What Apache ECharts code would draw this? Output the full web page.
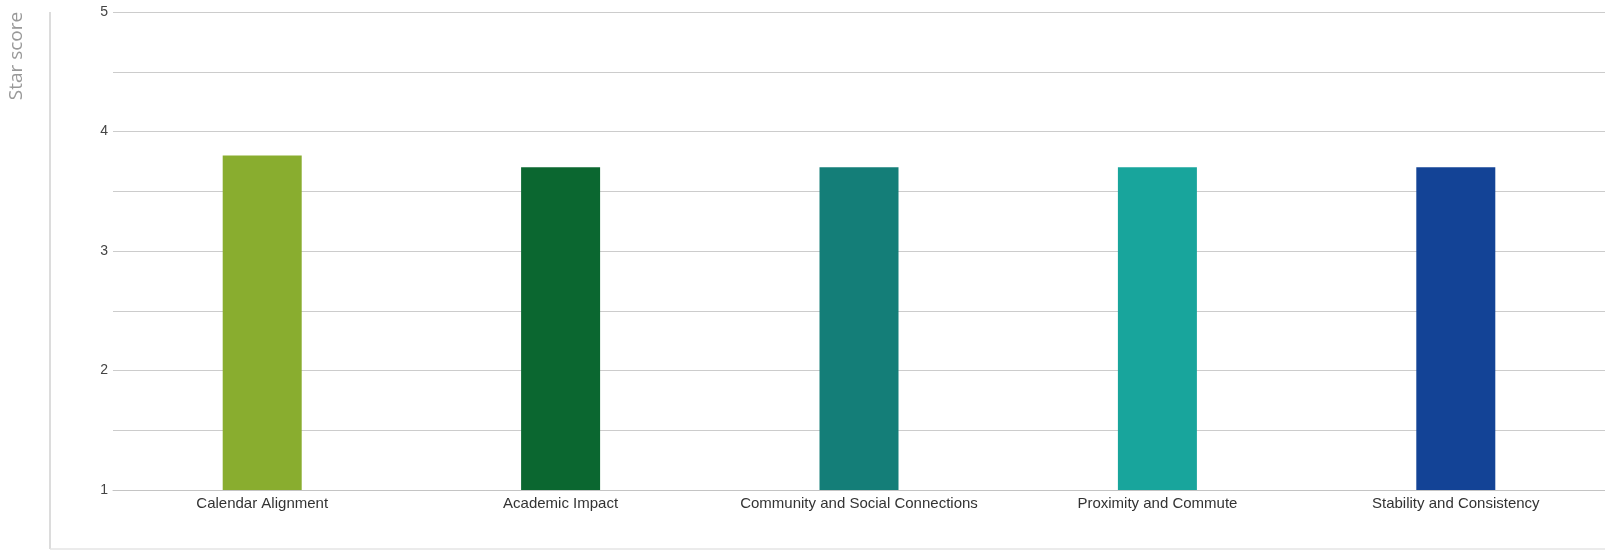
<!DOCTYPE html>
<html>
<head>
<meta charset="utf-8">
<script src="https://cdn.jsdelivr.net/npm/echarts@6/dist/echarts.min.js"></script>
<style>
html,body{margin:0;padding:0;background:#fff;}
#chart{width:1605px;height:552px;}
</style>
</head>
<body>
<div id="chart"></div>
<script>
var categories = ['Calendar Alignment', 'Academic Impact', 'Community and Social Connections', 'Proximity and Commute', 'Stability and Consistency'];
var scores = [3.8, 3.7, 3.7, 3.7, 3.7];
var barColors = ['#89ad2f', '#0b6730', '#147e78', '#18a59c', '#134396'];
var yTicks = [1, 2, 3, 4, 5];

var chart = echarts.init(document.getElementById('chart'));
chart.setOption({
  animation: false,
  backgroundColor: '#fff',
  grid: { left: 113, right: 0, top: 12, bottom: 62 },
  xAxis: {
    type: 'category',
    data: categories,
    axisLine: { show: true, lineStyle: { color: '#c4c4c4', width: 1 } },
    axisTick: { show: false },
    axisLabel: { interval: 0, hideOverlap: false, color: '#333', fontFamily: 'Liberation Sans, Arial, sans-serif', fontSize: 15, margin: 6 }
  },
  yAxis: {
    type: 'value',
    min: 1, max: 5, interval: 0.5,
    axisLine: { show: false },
    axisTick: { show: false },
    splitLine: { lineStyle: { color: '#cccccc', width: 1 } },
    axisLabel: {
      color: '#444', fontFamily: 'Liberation Sans, Arial, sans-serif', fontSize: 14, margin: 5,
      formatter: function (v) { return yTicks.indexOf(v) >= 0 ? String(v) : ''; }
    }
  },
  series: [{
    type: 'bar',
    barWidth: 79,
    data: scores.map(function (v, i) { return { value: v, itemStyle: { color: barColors[i] } }; })
  }],
  graphic: [
    { type: 'text', x: 17, y: 56, rotation: Math.PI / 2,
      style: { text: 'Star score', fill: '#999', font: '19px "Open Sans", sans-serif', textAlign: 'center', textVerticalAlign: 'middle' } },
    { type: 'line', shape: { x1: 50, y1: 12, x2: 50, y2: 549 }, style: { stroke: '#dcdcdc', lineWidth: 2 } },
    { type: 'line', shape: { x1: 50, y1: 549, x2: 1605, y2: 549 }, style: { stroke: '#e4e4e4', lineWidth: 1.5 } }
  ]
});
</script>
</body>
</html>
